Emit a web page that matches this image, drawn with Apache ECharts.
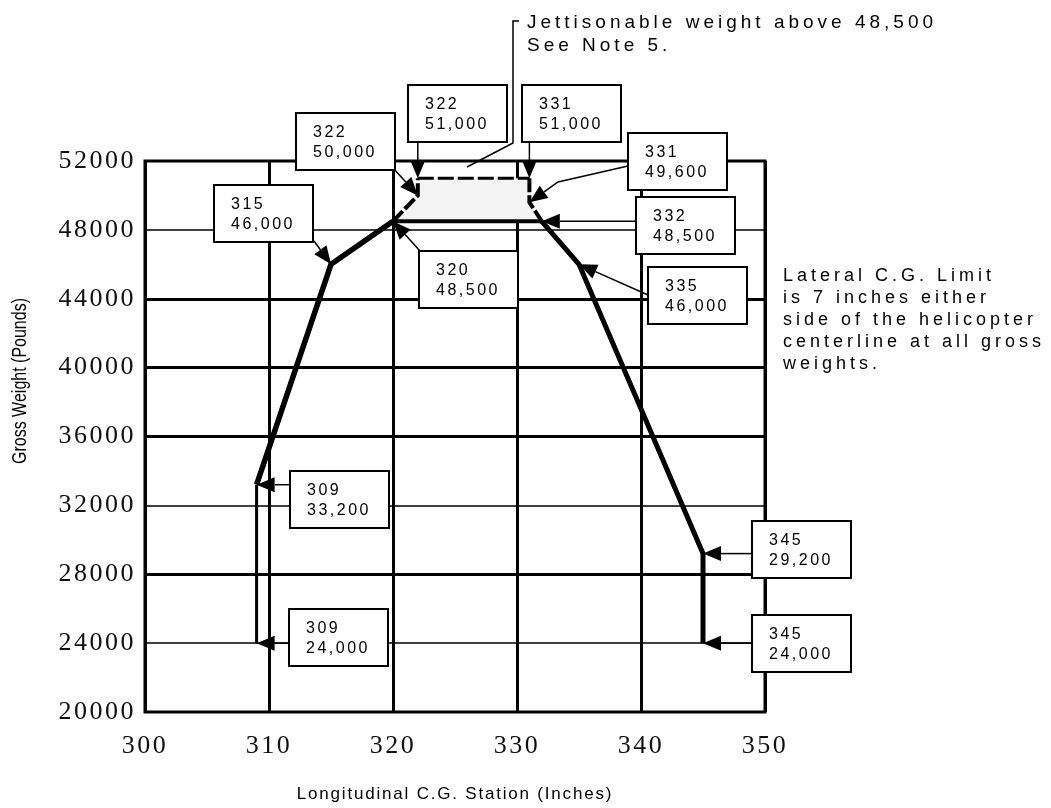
<!DOCTYPE html>
<html>
<head>
<meta charset="utf-8">
<script src="https://cdn.jsdelivr.net/npm/echarts@6/dist/echarts.min.js"></script>
<style>
html,body{margin:0;padding:0;background:#fff}
#main{width:1051px;height:808px}
</style>
</head>
<body>
<div id="main"></div>
<script>
// ---------------- DATA ----------------
const stationTicks = [300, 310, 320, 330, 340, 350];
const weightTicks = [20000, 24000, 28000, 32000, 36000, 40000, 44000, 48000, 52000];
const thickGridWeights = [28000, 36000, 40000, 44000];
const thinGridWeights = [24000, 32000, 48000];

const lowerLeftEdge = [[309, 24000], [309, 33200]];
const leftEdge = [[309, 33200], [315, 46000], [320, 48500]];
const rightEdge = [[332, 48500], [335, 46000], [345, 29200], [345, 24000]];
const baseEdge = [[320, 48500], [332, 48500]];
const jettisonLeft = [[320, 48500], [322, 50000], [322, 51000]];
const jettisonTop = [[322, 51000], [331, 51000]];
const jettisonRight = [[331, 51000], [331, 49600], [332, 48500]];

const calloutStations = [322, 331, 322, 331, 332, 335, 315, 320, 309, 309, 345, 345];
const calloutWeights = [51000, 51000, 50000, 49600, 48500, 46000, 46000, 48500, 33200, 24000, 29200, 24000];

const noteLines = ['Jettisonable weight above 48,500', 'See Note 5.'];
const lateralLines = ['Lateral C.G. Limit', 'is 7 inches either', 'side of the helicopter', 'centerline at all gross', 'weights.'];
const xName = 'Longitudinal C.G. Station (Inches)';
const yName = 'Gross Weight (Pounds)';

// ---------------- LAYOUT (pixels) ----------------
const boxPos = [[408, 85], [522, 85], [296, 113], [628, 133], [636, 197], [648, 267], [214, 185], [419, 251], [290, 471], [289, 609], [752, 521], [752, 615]];
// tail point of each arrow; null -> take from tip
const arrowTails = [
  [[null, 143]], [[null, 143]], [[394, 169]], [[628, 166], [558, 182]], [[636, null]], [[648, 295]],
  [[314, 241]], [[420, 251]], [[290, null]], [[289, null]], [[752, null]], [[752, null]]
];
const BOX_W = 99, BOX_H = 57;

// letter spacing per font size (the reference text is widely spaced)
(function () {
  const LS = { 26: '2.5px', 16: '2.5px', 19: '4px', 18: '4px', 17: '1.8px' };
  const P = CanvasRenderingContext2D.prototype;
  const orig = P.fillText;
  P.fillText = function (t, x, y, m) {
    const mm = (this.font || '').match(/(\d+(?:\.\d+)?)px/);
    const k = mm ? Math.round(parseFloat(mm[1])) : 0;
    try { this.letterSpacing = LS[k] || '0px'; } catch (e) {}
    return m === undefined ? orig.call(this, t, x, y) : orig.call(this, t, x, y, m);
  };
})();

const chart = echarts.init(document.getElementById('main'), null, { renderer: 'canvas' });

const polygonPts = jettisonLeft.concat(jettisonTop.slice(1), jettisonRight.slice(1));

function edge(data, width, dash, z) {
  return {
    type: 'line', data: data, symbol: 'none', silent: true, z: z || 5,
    lineStyle: { color: '#000', width: width, type: dash || 'solid', join: 'miter', cap: 'butt' }
  };
}

const tickFont = { fontFamily: '"Liberation Serif", "Times New Roman", serif', fontSize: 26, color: '#111' };

const option = {
  animation: false,
  backgroundColor: '#fff',
  grid: { left: 145, right: 286, top: 161, bottom: 92, show: true, borderColor: '#000', borderWidth: 3, backgroundColor: 'transparent' },
  xAxis: {
    type: 'value', min: stationTicks[0], max: stationTicks[stationTicks.length - 1], interval: 10,
    axisLine: { show: false }, axisTick: { show: false },
    splitLine: { show: true, lineStyle: { color: '#000', width: 3 } },
    axisLabel: Object.assign({ margin: 21, formatter: v => String(v) }, tickFont),
    name: xName, nameLocation: 'middle', nameGap: 74,
    nameTextStyle: { fontFamily: 'Liberation Sans', fontSize: 17, color: '#000' }
  },
  yAxis: {
    type: 'value', min: weightTicks[0], max: weightTicks[weightTicks.length - 1], interval: 4000,
    axisLine: { show: false }, axisTick: { show: false }, splitLine: { show: false },
    axisLabel: Object.assign({ margin: 9, formatter: v => String(v) }, tickFont)
  },
  series: [
    {
      type: 'custom', z: 3, silent: true, data: [[326, 50000]],
      renderItem: function (params, api) {
        const pts = polygonPts.map(p => api.coord(p));
        return { type: 'polygon', shape: { points: pts }, style: { fill: '#f3f3f3' } };
      }
    },
    {
      type: 'line', data: [], symbol: 'none', silent: true, z: 2,
      markLine: {
        silent: true, symbol: ['none', 'none'], label: { show: false }, animation: false,
        data: thickGridWeights.map(v => ({ yAxis: v, lineStyle: { color: '#000', width: 3, type: 'solid' } }))
          .concat(thinGridWeights.map(v => ({ yAxis: v, lineStyle: { color: '#000', width: 1.5, type: 'solid' } })))
      }
    },
    edge(lowerLeftEdge, 3),
    edge(leftEdge, 5.5),
    edge(rightEdge, 5),
    edge(baseEdge, 4),
    edge(jettisonLeft, 4, [14, 3]),
    edge(jettisonTop, 3, [16, 4]),
    edge(jettisonRight, 4, [14, 3])
  ]
};
chart.setOption(option);

// ---------------- CALLOUTS ----------------
const g = [];
const SANS = '"Liberation Sans", Arial, sans-serif';
calloutStations.forEach((st, i) => {
  const w = calloutWeights[i];
  const tip = chart.convertToPixel({ gridIndex: 0 }, [st, w]);
  const tails = arrowTails[i].map(p => [p[0] == null ? tip[0] : p[0], p[1] == null ? tip[1] : p[1]]);
  const last = tails[tails.length - 1];
  let dx = tip[0] - last[0], dy = tip[1] - last[1];
  const len = Math.sqrt(dx * dx + dy * dy) || 1; dx /= len; dy /= len;
  const L = 18, W = 7.5;
  const base = [tip[0] - dx * L, tip[1] - dy * L];
  g.push({ type: 'polyline', z: 20, silent: true, shape: { points: tails.concat([base]) }, style: { stroke: '#000', lineWidth: 1.5, fill: null } });
  g.push({ type: 'polygon', z: 20, silent: true, shape: { points: [tip, [base[0] - dy * W, base[1] + dx * W], [base[0] + dy * W, base[1] - dx * W]] }, style: { fill: '#000' } });
  const b = boxPos[i];
  g.push({ type: 'rect', z: 21, silent: true, shape: { x: b[0], y: b[1], width: BOX_W, height: BOX_H }, style: { fill: '#fff', stroke: '#000', lineWidth: 2 } });
  g.push({ type: 'text', z: 22, silent: true, style: { text: String(st), x: b[0] + 17, y: b[1] + 20, font: '16px ' + SANS, fill: '#000', textAlign: 'left', textVerticalAlign: 'middle' } });
  g.push({ type: 'text', z: 22, silent: true, style: { text: w.toLocaleString('en-US'), x: b[0] + 17, y: b[1] + 40, font: '16px ' + SANS, fill: '#000', textAlign: 'left', textVerticalAlign: 'middle' } });
});

// note leader
g.push({ type: 'polyline', z: 20, silent: true, shape: { points: [[519, 21], [513, 21], [513, 143], [467, 167]] }, style: { stroke: '#000', lineWidth: 1.5, fill: null } });
noteLines.forEach((t, i) => {
  g.push({ type: 'text', z: 22, silent: true, style: { text: t, x: 527, y: 23 + i * 23, font: '19px ' + SANS, fill: '#000', textAlign: 'left', textVerticalAlign: 'middle' } });
});
lateralLines.forEach((t, i) => {
  g.push({ type: 'text', z: 22, silent: true, style: { text: t, x: 783, y: 276 + i * 22, font: '18px ' + SANS, fill: '#000', textAlign: 'left', textVerticalAlign: 'middle' } });
});
g.push({ type: 'text', z: 22, silent: true, x: 20, y: 381, rotation: Math.PI / 2, scaleX: 0.8, scaleY: 1,
  style: { text: yName, x: 0, y: 0, font: '20px "Liberation Sans", Arial, sans-serif', fill: '#000', textAlign: 'center', textVerticalAlign: 'middle' } });

chart.setOption({ graphic: g });
</script>
</body>
</html>
